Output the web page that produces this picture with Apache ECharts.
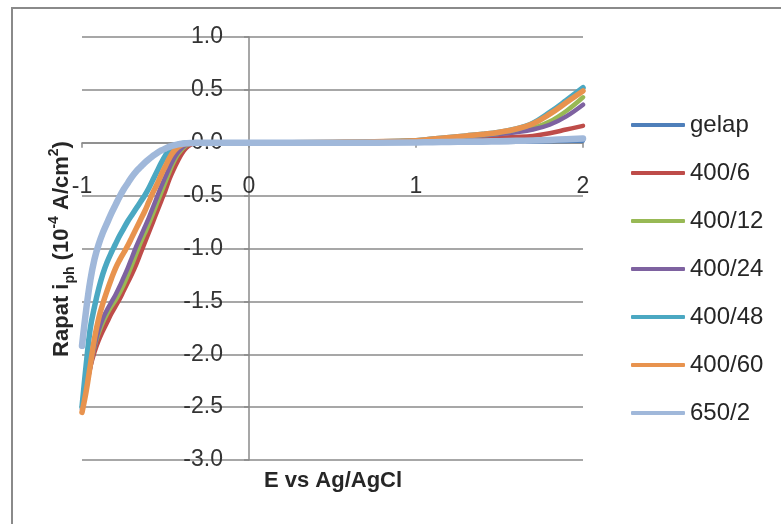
<!DOCTYPE html>
<html>
<head>
<meta charset="utf-8">
<script src="https://cdn.jsdelivr.net/npm/echarts@6/dist/echarts.min.js"></script>
<style>
html,body{margin:0;padding:0;background:#fff;}
#chart{width:781px;height:524px;}
</style>
</head>
<body>
<div id="chart"></div>
<script>
// Potential E vs Ag/AgCl (V)
var potentials = [-1, -0.975, -0.95, -0.925, -0.9, -0.875, -0.85, -0.825, -0.8, -0.775, -0.75, -0.725, -0.7, -0.675, -0.65, -0.625, -0.6, -0.575, -0.55, -0.525, -0.5, -0.475, -0.45, -0.425, -0.4, -0.375, -0.35, -0.325, -0.3, -0.2, 0, 0.5, 1.0, 1.1, 1.2, 1.3, 1.4, 1.5, 1.6, 1.7, 1.8, 1.9, 2.0];

var seriesNames = ['gelap', '400/6', '400/12', '400/24', '400/48', '400/60', '650/2'];

var gelap   = [-2.5, -2.3, -2.1, -1.95, -1.83, -1.74, -1.66, -1.58, -1.52, -1.45, -1.37, -1.28, -1.19, -1.1, -1.0, -0.9, -0.81, -0.71, -0.61, -0.51, -0.41, -0.31, -0.22, -0.14, -0.08, -0.04, -0.014, -0.003, 0,
               0, 0, 0,
               0, 0.001, 0.003, 0.004, 0.005, 0.007, 0.009, 0.011, 0.014, 0.017, 0.02];
var s400_6  = [-2.5, -2.3, -2.12, -1.98, -1.87, -1.78, -1.7, -1.62, -1.55, -1.48, -1.4, -1.32, -1.24, -1.15, -1.05, -0.95, -0.85, -0.75, -0.65, -0.55, -0.45, -0.34, -0.25, -0.17, -0.1, -0.05, -0.02, -0.005, 0,
               0, 0, 0.003,
               0.015, 0.022, 0.03, 0.037, 0.043, 0.048, 0.054, 0.065, 0.09, 0.125, 0.16];
var s400_12 = [-2.5, -2.3, -2.1, -1.93, -1.8, -1.7, -1.62, -1.55, -1.49, -1.42, -1.34, -1.25, -1.15, -1.05, -0.95, -0.86, -0.77, -0.67, -0.57, -0.47, -0.37, -0.27, -0.18, -0.11, -0.06, -0.025, -0.008, -0.002, 0,
               0, 0, 0.004,
               0.018, 0.03, 0.045, 0.058, 0.07, 0.085, 0.105, 0.14, 0.2, 0.3, 0.43];
var s400_24 = [-2.52, -2.32, -2.12, -1.92, -1.77, -1.66, -1.58, -1.51, -1.44, -1.36, -1.27, -1.18, -1.08, -0.98, -0.89, -0.8, -0.71, -0.61, -0.51, -0.41, -0.32, -0.23, -0.15, -0.09, -0.045, -0.018, -0.006, -0.001, 0,
               0, 0, 0.004,
               0.018, 0.03, 0.045, 0.058, 0.07, 0.083, 0.1, 0.125, 0.17, 0.25, 0.36];
var s400_48 = [-2.5, -2.1, -1.75, -1.55, -1.38, -1.24, -1.13, -1.04, -0.96, -0.88, -0.81, -0.74, -0.68, -0.62, -0.56, -0.5, -0.43, -0.35, -0.27, -0.19, -0.12, -0.065, -0.032, -0.015, -0.007, -0.003, -0.001, 0, 0,
               0, 0, 0.003,
               0.02, 0.035, 0.05, 0.065, 0.08, 0.1, 0.13, 0.185, 0.285, 0.4, 0.52];
var s400_60 = [-2.55, -2.35, -2.1, -1.85, -1.66, -1.52, -1.4, -1.29, -1.19, -1.11, -1.04, -0.97, -0.89, -0.81, -0.73, -0.65, -0.56, -0.47, -0.39, -0.3, -0.22, -0.14, -0.08, -0.04, -0.018, -0.007, -0.002, 0, 0,
               0, 0, 0.005,
               0.02, 0.035, 0.05, 0.065, 0.08, 0.1, 0.13, 0.18, 0.27, 0.38, 0.49];
var s650_2  = [-1.92, -1.58, -1.3, -1.1, -0.96, -0.85, -0.76, -0.67, -0.59, -0.51, -0.44, -0.38, -0.32, -0.27, -0.23, -0.19, -0.155, -0.125, -0.097, -0.073, -0.054, -0.037, -0.024, -0.015, -0.009, -0.005, -0.002, -0.001, 0,
               0, 0, 0,
               0.003, 0.005, 0.008, 0.01, 0.012, 0.015, 0.018, 0.022, 0.027, 0.033, 0.04];

var xTicks = [-1, 0, 1, 2];
var yTicks = [-3.0, -2.5, -2.0, -1.5, -1.0, -0.5, 0.0, 0.5, 1.0];

var allValues = [gelap, s400_6, s400_12, s400_24, s400_48, s400_60, s650_2];
var colors = ['#4f7fba', '#be4c49', '#98b955', '#7e62a0', '#4ba8c2', '#e8934e', '#a0b8da'];
var widths = [4.5, 4.5, 4.5, 4.5, 5.5, 5.5, 6.5];

function pairs(vals) {
  return potentials.map(function (x, i) { return [x, vals[i]]; });
}

var FONT = '"Liberation Sans", Arial, sans-serif';
var GRID = {left: 82, right: 198, top: 37, bottom: 64};
var W = 781, H = 524;
var plotW = W - GRID.left - GRID.right;
var plotH = H - GRID.top - GRID.bottom;
var xMin = xTicks[0], xMax = xTicks[xTicks.length - 1];
var yMin = yTicks[0], yMax = yTicks[yTicks.length - 1];
// axes cross at zero: shift each axis inward from the grid edge to the other axis' zero
var yAxisOffset = -plotW * (0 - xMin) / (xMax - xMin);
var xAxisOffset = -plotH * (0 - yMin) / (yMax - yMin);

var chart = echarts.init(document.getElementById('chart'), null, {renderer: 'canvas'});

var series = seriesNames.map(function (n, i) {
  return {
    name: n,
    type: 'line',
    data: pairs(allValues[i]),
    showSymbol: false,
    smooth: 0.4,
    color: colors[i],
    lineStyle: {width: widths[i], color: colors[i], cap: 'round', join: 'round'},
    z: 2 + i
  };
});

chart.setOption({
  animation: false,
  backgroundColor: '#ffffff',
  grid: {left: GRID.left, right: GRID.right, top: GRID.top, bottom: GRID.bottom, containLabel: false},
  xAxis: {
    type: 'value',
    position: 'bottom',
    offset: xAxisOffset,
    min: xMin,
    max: xMax,
    interval: 1,
    axisLine: {show: true, onZero: false, lineStyle: {color: '#8a8a8a', width: 1.5}},
    axisTick: {show: true, length: 5, lineStyle: {color: '#8a8a8a', width: 1.5}},
    axisLabel: {show: true, margin: 32, fontSize: 23, color: '#333', fontFamily: FONT,
      showMinLabel: true, showMaxLabel: true,
      formatter: function (v) { return String(v); }},
    splitLine: {show: false}
  },
  yAxis: {
    type: 'value',
    position: 'left',
    offset: yAxisOffset,
    min: yMin,
    max: yMax,
    interval: 0.5,
    axisLine: {show: true, onZero: false, lineStyle: {color: '#8a8a8a', width: 1.5}},
    axisTick: {show: true, length: 5, lineStyle: {color: '#8a8a8a', width: 1.5}},
    axisLabel: {show: true, margin: 26, fontSize: 23, color: '#333', fontFamily: FONT,
      formatter: function (v) { return v.toFixed(1); }},
    splitLine: {show: true, lineStyle: {color: '#8a8a8a', width: 1.5}}
  },
  legend: {
    orient: 'vertical',
    left: 631,
    top: 113,
    icon: 'roundRect',
    itemWidth: 54,
    itemHeight: 4,
    itemGap: 24,
    padding: 0,
    data: seriesNames,
    textStyle: {fontSize: 24, lineHeight: 24, color: '#262626', fontFamily: FONT, padding: [0, 0, 0, 0]}
  },
  graphic: [
    {type: 'rect', z: 0, silent: true, shape: {x: 12, y: 8, width: 800, height: 600},
      style: {fill: 'none', stroke: '#8a8a8a', lineWidth: 2}},
    {type: 'text', x: 333, y: 481, z: 10,
      style: {text: 'E vs Ag/AgCl', fontSize: 22, fontWeight: 'bold', fontFamily: FONT,
        fill: '#262626', align: 'center', verticalAlign: 'middle'}},
    {type: 'text', x: 62, y: 249, rotation: Math.PI / 2, z: 10,
      style: {
        text: '{b|Rapat i}{s|ph}{b| (10}{u|-4}{b| A/cm}{u|2}{b|)}',
        align: 'center', verticalAlign: 'middle', fill: '#262626',
        rich: {
          b: {fontSize: 22, fontWeight: 'bold', fontFamily: FONT, fill: '#262626', lineHeight: 30, verticalAlign: 'middle'},
          s: {fontSize: 14, fontWeight: 'bold', fontFamily: FONT, fill: '#262626', lineHeight: 14, verticalAlign: 'bottom'},
          u: {fontSize: 14, fontWeight: 'bold', fontFamily: FONT, fill: '#262626', lineHeight: 14, verticalAlign: 'top'}
        }
      }}
  ],
  series: series
});
</script>
</body>
</html>
